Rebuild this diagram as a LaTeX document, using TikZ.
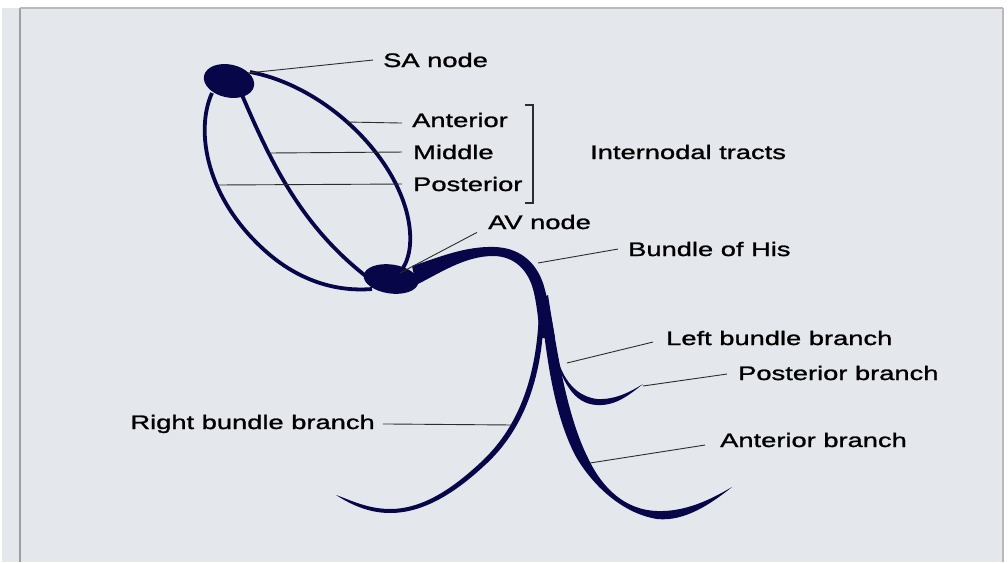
\documentclass[tikz,border=0pt]{standalone}
\usepackage{fontspec}
\setmainfont{Liberation Sans}[FakeStretch=1.4, FakeBold=1.3]
\usetikzlibrary{shapes.geometric}

\definecolor{tractblue}{RGB}{6,6,72}
\definecolor{panel}{RGB}{228,231,236}
\definecolor{leadgray}{RGB}{45,45,45}

\begin{document}
\begin{tikzpicture}[
  x=1pt, y=-1pt,
  tract/.style={draw=tractblue, line width=3.8pt},
  fiber/.style={fill=tractblue},
  nodal/.style={ellipse, fill=tractblue, inner sep=0pt},
  lbl/.style={anchor=base west, inner sep=0pt, font=\fontsize{19.5}{23}\selectfont},
  leader/.style={draw=leadgray, line width=0.9pt}
]
  \useasboundingbox (0,0) rectangle (1008,562);

  % panel and frame
  \fill[white] (0,0) rectangle (1008,562);
  \fill[panel] (2,8) rectangle (1004,562);
  \draw[gray!75, line width=2.4pt] (20,8) -- (20,562);
  \draw[gray!110!black!60, line width=1.5pt] (20,8) -- (1003,8);
  \draw[gray!110!black!60, line width=2.5pt] (1003,8) -- (1003,562);

  % internodal tracts
  \draw[tract] (250,72) .. controls (335,88) and (415,175) .. (410,245)
    .. controls (409,256) and (406,263) .. (403,268);
  \draw[tract] (242,95) .. controls (270,160) and (300,225) .. (367,277);
  \draw[tract] (212,93) .. controls (195,130) and (205,200) .. (270,255)
    .. controls (300,280) and (335,292) .. (372,289);

  % bundle of His
  \fill[fiber] (412,266) .. controls (440,257) and (465,246) .. (495,247)
    .. controls (522,248) and (539,265) .. (545,290)
    .. controls (549,305) and (552,320) .. (555,338)
    -- (540,338)
    .. controls (538,315) and (536,300) .. (533,289)
    .. controls (528,271) and (515,256) .. (493,256)
    .. controls (465,256) and (440,273) .. (416,285) -- cycle;

  % right bundle branch
  \fill[fiber] (544,310) .. controls (543,380) and (522,432) .. (484,466)
    .. controls (457,491) and (425,513) .. (390,513)
    .. controls (368,513) and (350,504) .. (336,495)
    .. controls (350,500) and (368,509) .. (390,509)
    .. controls (423,509) and (453,488) .. (480,463)
    .. controls (517,429) and (537,380) .. (539,310) -- cycle;

  % left bundle: anterior branch
  \fill[fiber] (540,300) .. controls (546,350) and (552,410) .. (575,455)
    .. controls (590,482) and (620,513) .. (657,519)
    .. controls (685,522) and (712,503) .. (732,487)
    .. controls (710,500) and (685,512) .. (657,511)
    .. controls (625,510) and (602,488) .. (588,458)
    .. controls (568,418) and (558,360) .. (548,295) -- cycle;

  % left bundle: posterior branch
  \fill[fiber] (550,320) .. controls (554,360) and (565,395) .. (597,399)
    .. controls (615,400) and (630,392) .. (643,384)
    .. controls (628,396) and (615,406) .. (597,405)
    .. controls (575,404) and (560,385) .. (548,330) -- cycle;

  % nodes
  \node[nodal, minimum width=51pt, minimum height=33pt, rotate=-12] (sa) at (229,81) {};
  \node[nodal, minimum width=55pt, minimum height=29pt, rotate=-8] (av) at (391,279) {};

  % labels
  \node[lbl] (salbl) at (383,67) {SA node};
  \node[lbl] (antlbl) at (412,127) {Anterior};
  \node[lbl] (midlbl) at (413,159) {Middle};
  \node[lbl] (postlbl) at (413,191) {Posterior};
  \node[lbl] (inter) at (590,159) {Internodal tracts};
  \node[lbl] (avlbl) at (488,229) {AV node};
  \node[lbl] (his) at (628,256) {Bundle of His};
  \node[lbl] (lbb) at (666,345) {Left bundle branch};
  \node[lbl] (pbr) at (738,380) {Posterior branch};
  \node[lbl] (abr) at (720,447) {Anterior branch};
  \node[lbl, anchor=base east] (rbb) at (375,429) {Right bundle branch};

  % leader lines
  \coordinate (saEdge) at (248,73);
  \coordinate (antTract) at (346,122);
  \coordinate (midTract) at (269,153);
  \coordinate (postTract) at (217,185);
  \coordinate (avCore) at (400,273);
  \coordinate (hisEdge) at (538,263);
  \coordinate (lbbEdge) at (567,363);
  \coordinate (pbEdge) at (643,386);
  \coordinate (abEdge) at (590,463);
  \coordinate (rbbEdge) at (513,425);

  \draw[leader] (saEdge) -- ([xshift=-10pt]salbl.west);
  \draw[leader] (antTract) -- ([xshift=-10pt,yshift=-3pt]antlbl.west);
  \draw[leader] (midTract) -- ([xshift=-11pt]midlbl.west);
  \draw[leader] (postTract) -- ([xshift=-11pt]postlbl.west);
  \draw[leader] (avCore) -- ([xshift=-11pt,yshift=-3pt]avlbl.south west);
  \draw[leader] (hisEdge) -- ([xshift=-10pt]his.west);
  \draw[leader] (lbbEdge) -- ([xshift=-13pt,yshift=-4pt]lbb.west);
  \draw[leader] (pbEdge) -- ([xshift=-11pt,yshift=-1pt]pbr.west);
  \draw[leader] (abEdge) -- ([xshift=-15pt,yshift=-5pt]abr.west);
  \draw[leader] (rbbEdge) -- ([xshift=8pt]rbb.east);

  % bracket for the tracts
  \draw[leader, line width=1.2pt] (525,105) -- (533,105) -- (533,203) -- (525,203);
\end{tikzpicture}
\end{document}
